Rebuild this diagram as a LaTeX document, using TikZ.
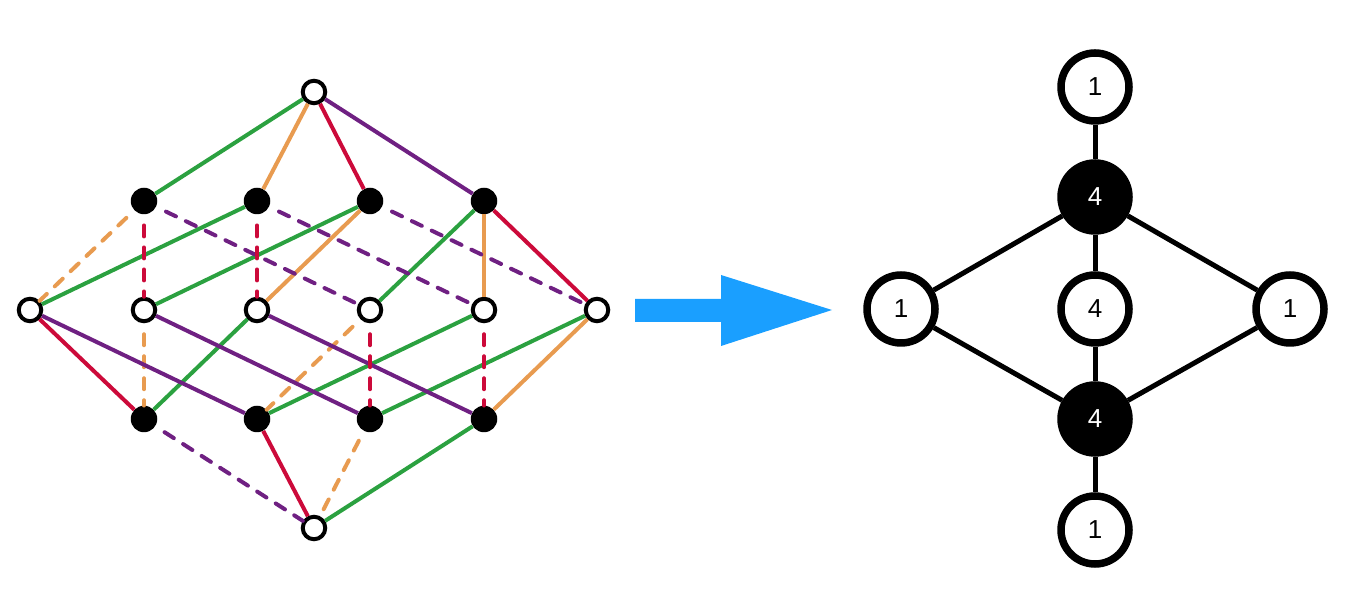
\documentclass[tikz,border=0pt]{standalone}
\usepackage{fontspec}
\setmainfont{Liberation Sans}
\definecolor{edgegreen}{HTML}{2BA140}
\definecolor{edgeorange}{HTML}{E89B50}
\definecolor{edgered}{HTML}{CC0A3A}
\definecolor{edgepurple}{HTML}{6F2082}
\definecolor{arrowblue}{HTML}{1A9FFF}
\begin{document}
\begin{tikzpicture}[x=1pt, y=1pt]
    \tikzstyle openvertex=[circle,draw=black,line width=4pt,fill=white,inner sep=0pt,minimum size=22.5pt]
    \tikzstyle filledvertex=[circle,fill=black,inner sep=0pt,minimum size=26.5pt]
    \tikzstyle openweight=[circle,draw=black,line width=7.5pt,fill=white,inner sep=0pt,minimum size=68pt,font=\fontsize{26}{26}\selectfont]
    \tikzstyle filledweight=[circle,draw=black,line width=7.5pt,fill=black,text=white,inner sep=0pt,minimum size=68pt,font=\fontsize{26}{26}\selectfont]
    \tikzstyle greenedge=[line width=4pt,edgegreen]
    \tikzstyle orangeedge=[line width=4pt,edgeorange]
    \tikzstyle rededge=[line width=4pt,edgered]
    \tikzstyle purpleedge=[line width=4pt,edgepurple]
    \tikzstyle broken=[line cap=round,dash pattern=on 11pt off 11pt,dash phase=11pt]
    \useasboundingbox (0,0) rectangle (1367,607);

    % left graph, five rows
    \node[openvertex] (top) at (314,515) {};
    \node[filledvertex] (a1) at (144,406) {};
    \node[filledvertex] (a2) at (257,406) {};
    \node[filledvertex] (a3) at (370,406) {};
    \node[filledvertex] (a4) at (484,406) {};
    \node[openvertex] (m0) at (30,297) {};
    \node[openvertex] (m1) at (144,297) {};
    \node[openvertex] (m2) at (257,297) {};
    \node[openvertex] (m3) at (370,297) {};
    \node[openvertex] (m4) at (484,297) {};
    \node[openvertex] (m5) at (597,297) {};
    \node[filledvertex] (b1) at (144,188) {};
    \node[filledvertex] (b2) at (257,188) {};
    \node[filledvertex] (b3) at (370,188) {};
    \node[filledvertex] (b4) at (484,188) {};
    \node[openvertex] (bot) at (314,79) {};

    \draw[greenedge] (top) -- (a1);
    \draw[greenedge] (a2) -- (m0);
    \draw[greenedge] (a3) -- (m1);
    \draw[greenedge] (a4) -- (m3);
    \draw[greenedge] (m2) -- (b1);
    \draw[greenedge] (m4) -- (b2);
    \draw[greenedge] (m5) -- (b3);
    \draw[greenedge] (b4) -- (bot);

    \draw[orangeedge] (top) -- (a2);
    \draw[orangeedge] (a3) -- (m2);
    \draw[orangeedge] (a4) -- (m4);
    \draw[orangeedge] (m5) -- (b4);
    \draw[orangeedge,broken] (a1) -- (m0);
    \draw[orangeedge,broken] (m1) -- (b1);
    \draw[orangeedge,broken] (m3) -- (b2);
    \draw[orangeedge,broken] (b3) -- (bot);

    \draw[purpleedge] (top) -- (a4);
    \draw[purpleedge] (m0) -- (b2);
    \draw[purpleedge] (m1) -- (b3);
    \draw[purpleedge] (m2) -- (b4);
    \draw[purpleedge,broken] (a1) -- (m3);
    \draw[purpleedge,broken] (a2) -- (m4);
    \draw[purpleedge,broken] (a3) -- (m5);
    \draw[purpleedge,broken] (b1) -- (bot);

    \draw[rededge] (top) -- (a3);
    \draw[rededge] (a4) -- (m5);
    \draw[rededge] (m0) -- (b1);
    \draw[rededge] (b2) -- (bot);
    \draw[rededge,broken] (a1) -- (m1);
    \draw[rededge,broken] (a2) -- (m2);
    \draw[rededge,broken] (m3) -- (b3);
    \draw[rededge,broken] (m4) -- (b4);

    % big arrow in the middle
    \fill[arrowblue] (635,308) -- (721,308) -- (721,332) -- (832,297)
      -- (721,261) -- (721,285) -- (635,285) -- cycle;

    % right graph
    \node[openweight] (wtop) at (1095,520) {1};
    \node[filledweight] (wup) at (1095,410) {4};
    \node[openweight] (wleft) at (901,298) {1};
    \node[openweight] (wmid) at (1095,298) {4};
    \node[openweight] (wright) at (1290,298) {1};
    \node[filledweight] (wlow) at (1095,188) {4};
    \node[openweight] (wbot) at (1095,77) {1};
    \draw[line width=5pt] (wtop) -- (wup);
    \draw[line width=5pt] (wup) -- (wmid);
    \draw[line width=5pt] (wmid) -- (wlow);
    \draw[line width=5pt] (wlow) -- (wbot);
    \draw[line width=5pt] (wup) -- (wleft);
    \draw[line width=5pt] (wup) -- (wright);
    \draw[line width=5pt] (wleft) -- (wlow);
    \draw[line width=5pt] (wright) -- (wlow);
\end{tikzpicture}
\end{document}
